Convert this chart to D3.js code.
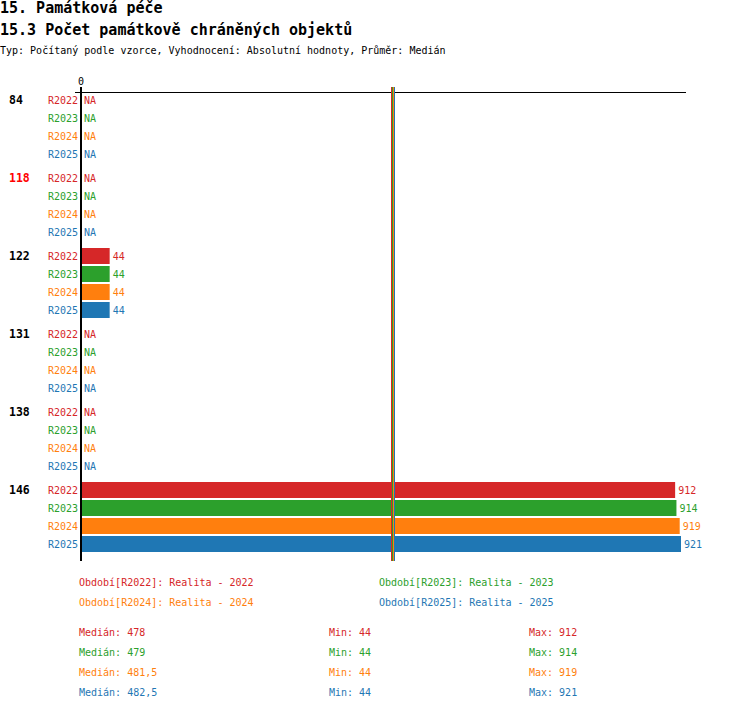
<!DOCTYPE html>
<html>
<head>
<meta charset="utf-8">
<script src="https://cdn.jsdelivr.net/npm/d3@7"></script>
<style>
  body { margin: 0; background: #fff; }
  svg text { font-family: "DejaVu Sans Mono", "Liberation Mono", monospace; }
</style>
</head>
<body>
<div id="chart"></div>
<script>
// Categories (groups) and series
const categories = ["84", "118", "122", "131", "138", "146"];
const highlighted = ["118"];
const series = ["R2022", "R2023", "R2024", "R2025"];
const seriesNames = ["Realita - 2022", "Realita - 2023", "Realita - 2024", "Realita - 2025"];
const colors = ["#d62728", "#2ca02c", "#ff7f0e", "#1f77b4"];

// Values per series, one per category (null = NA)
const r2022 = [null, null, 44, null, null, 912];
const r2023 = [null, null, 44, null, null, 914];
const r2024 = [null, null, 44, null, null, 919];
const r2025 = [null, null, 44, null, null, 921];
const values = [r2022, r2023, r2024, r2025];

// Summary stats per series
const medians = [478, 479, 481.5, 482.5];
const medianLabels = ["478", "479", "481,5", "482,5"];
const mins = [44, 44, 44, 44];
const maxs = [912, 914, 919, 921];

const width = 750, height = 710;

const svg = d3.select("#chart")
  .append("svg")
  .attr("width", width)
  .attr("height", height);

// Titles
svg.append("text")
  .attr("x", 0).attr("y", 13)
  .attr("font-size", 15).attr("font-weight", "bold")
  .text("15. Památková péče");
svg.append("text")
  .attr("x", 0).attr("y", 35)
  .attr("font-size", 15).attr("font-weight", "bold")
  .text("15.3 Počet památkově chráněných objektů");
svg.append("text")
  .attr("x", 0).attr("y", 54)
  .attr("font-size", 10)
  .text("Typ: Počítaný podle vzorce, Vyhodnocení: Absolutní hodnoty, Průměr: Medián");

// Scales
const x = d3.scaleLinear().domain([0, d3.max(maxs)]).range([81, 681]);
const yGroup = d3.scaleBand().domain(categories).range([91, 91 + categories.length * 78]);
const yRow = d3.scaleBand().domain(series).range([0, 72]);

// Top axis line with 0 tick
svg.append("line")
  .attr("x1", 75).attr("x2", 686)
  .attr("y1", 92.5).attr("y2", 92.5)
  .attr("stroke", "#000").attr("stroke-width", 1);
svg.append("text")
  .attr("x", x(0)).attr("y", 85)
  .attr("text-anchor", "middle")
  .attr("font-size", 10)
  .text("0");

// Groups
const groups = svg.selectAll(".group")
  .data(categories)
  .join("g")
  .attr("class", "group")
  .attr("transform", d => "translate(0," + yGroup(d) + ")");

groups.append("text")
  .attr("x", 9)
  .attr("y", yRow(series[0]) + yRow.bandwidth() / 2)
  .attr("dy", "0.35em")
  .attr("font-size", 11.5)
  .attr("font-weight", "bold")
  .attr("fill", d => highlighted.includes(d) ? "#ff0000" : "#000")
  .text(d => d);

groups.each(function (cat, ci) {
  const g = d3.select(this);
  series.forEach((s, si) => {
    const v = values[si][ci];
    const cy = yRow(s) + yRow.bandwidth() / 2;
    g.append("text")
      .attr("x", 78).attr("y", cy).attr("dy", "0.35em")
      .attr("text-anchor", "end")
      .attr("font-size", 10)
      .attr("fill", colors[si])
      .text(s);
    if (v == null) {
      g.append("text")
        .attr("x", 84).attr("y", cy).attr("dy", "0.35em")
        .attr("font-size", 10)
        .attr("fill", colors[si])
        .text("NA");
    } else {
      g.append("rect")
        .attr("x", x(0))
        .attr("y", yRow(s) + 1)
        .attr("width", x(v) - x(0))
        .attr("height", yRow.bandwidth() - 2)
        .attr("fill", colors[si]);
      g.append("text")
        .attr("x", x(v) + 3).attr("y", cy).attr("dy", "0.35em")
        .attr("font-size", 10)
        .attr("fill", colors[si])
        .text(v);
    }
  });
});

// Median lines (1px each, snapped to pixels so all four stay visible)
svg.selectAll(".median")
  .data(medians)
  .join("line")
  .attr("class", "median")
  .attr("x1", d => Math.floor(x(d)) - 0.5).attr("x2", d => Math.floor(x(d)) - 0.5)
  .attr("y1", 87).attr("y2", 561)
  .attr("stroke", (d, i) => colors[i])
  .attr("stroke-width", 1)
  .attr("shape-rendering", "crispEdges");

// Vertical zero axis
svg.append("line")
  .attr("x1", 81).attr("x2", 81)
  .attr("y1", 87).attr("y2", 561)
  .attr("stroke", "#000").attr("stroke-width", 2);

// Legend
const legendX = [79, 379];
series.forEach((s, i) => {
  svg.append("text")
    .attr("x", legendX[i % 2])
    .attr("y", 582 + Math.floor(i / 2) * 20)
    .attr("dy", "0.35em")
    .attr("font-size", 10)
    .attr("fill", colors[i])
    .text("Období[" + s + "]: " + seriesNames[i]);
});

// Stats
series.forEach((s, i) => {
  const yy = 632 + i * 20;
  const row = [
    [79, "Medián: " + medianLabels[i]],
    [329, "Min: " + mins[i]],
    [529, "Max: " + maxs[i]]
  ];
  row.forEach(([xx, t]) => {
    svg.append("text")
      .attr("x", xx).attr("y", yy).attr("dy", "0.35em")
      .attr("font-size", 10)
      .attr("fill", colors[i])
      .text(t);
  });
});
</script>
</body>
</html>
